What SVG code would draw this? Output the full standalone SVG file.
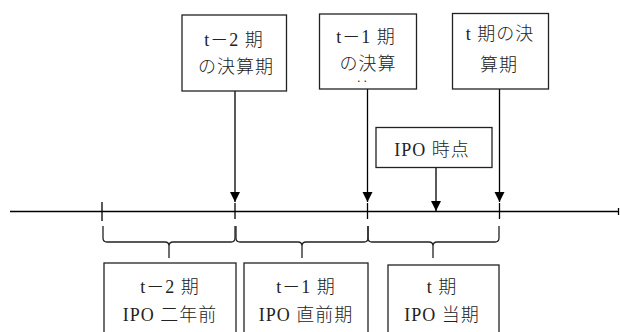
<svg xmlns="http://www.w3.org/2000/svg" width="620" height="332" viewBox="0 0 620 332">
<style>
.box{fill:#fff;stroke:#222;stroke-width:1.3}
.ln{fill:none;stroke:#000;stroke-width:1.3}
.br{fill:none;stroke:#222;stroke-width:1.3}
text{font-family:"Liberation Serif","Noto Sans CJK JP",serif;font-size:18px;font-weight:300;fill:#222;text-anchor:middle;letter-spacing:1px}
</style>
<defs>
<marker id="ah2" markerUnits="userSpaceOnUse" markerWidth="12" markerHeight="12" viewBox="0 0 12 12" refX="11" refY="6" orient="auto">
<path d="M1,1 L11,6 L1,11 Z" fill="#000"/>
</marker>
</defs>
<g id="connectors">
<line class="ln" x1="10" y1="211.5" x2="619" y2="211.5"/>
<line class="ln" x1="618.5" y1="208" x2="618.5" y2="215"/>
<line class="ln" x1="102" y1="202" x2="102" y2="221"/>
<line class="ln" x1="235" y1="203" x2="235" y2="219"/>
<line class="ln" x1="367.5" y1="203" x2="367.5" y2="219"/>
<line class="ln" x1="499.5" y1="203" x2="499.5" y2="219"/>
<line class="ln" x1="235" y1="91" x2="235" y2="202" marker-end="url(#ah2)"/>
<line class="ln" x1="367.5" y1="89" x2="367.5" y2="202" marker-end="url(#ah2)"/>
<line class="ln" x1="499.5" y1="89" x2="499.5" y2="202" marker-end="url(#ah2)"/>
<line class="ln" x1="436" y1="167" x2="436" y2="211" marker-end="url(#ah2)"/>
<path class="br" d="M103,226 L103,238 Q103,242 107,242 L165,242 Q169,242 169,246 L169,258 M169,246 Q169,242 173,242 L231,242 Q235,242 235,238 L235,226"/>
<path class="br" d="M236,226 L236,238 Q236,242 240,242 L298,242 Q302,242 302,246 L302,258 M302,246 Q302,242 306,242 L364,242 Q368,242 368,238 L368,226"/>
<path class="br" d="M368,226 L368,238 Q368,242 372,242 L429,242 Q433,242 433,246 L433,258 M433,246 Q433,242 437,242 L495,242 Q499,242 499,238 L499,226"/>
</g>
<g id="n-t2close">
<rect class="box" x="182" y="15" width="104.5" height="76"/>
<text x="234" y="46">t－2 期</text>
<text x="236" y="73">の決算期</text>
</g>
<g id="n-t1close">
<rect class="box" x="319.5" y="14" width="97" height="75"/>
<text x="366" y="43">t－1 期</text>
<text x="368" y="70">の決算</text>
<text x="362" y="86" style="font-size:13px;letter-spacing:0">‥</text>
</g>
<g id="n-tclose">
<rect class="box" x="452.5" y="13.5" width="96" height="75.5"/>
<text x="500" y="40">t 期の決</text>
<text x="499" y="71">算期</text>
</g>
<g id="n-ipo">
<rect class="box" x="376" y="127.5" width="116" height="40"/>
<text x="432" y="156">IPO 時点</text>
</g>
<g id="n-t2">
<rect class="box" x="104" y="263" width="132" height="80"/>
<text x="170" y="293">t－2 期</text>
<text x="170" y="321">IPO 二年前</text>
</g>
<g id="n-t1">
<rect class="box" x="244" y="263" width="124" height="80"/>
<text x="306" y="293">t－1 期</text>
<text x="306" y="321">IPO 直前期</text>
</g>
<g id="n-t">
<rect class="box" x="388" y="265" width="111" height="80"/>
<text x="442" y="293">t 期</text>
<text x="442" y="321">IPO 当期</text>
</g>
</svg>
